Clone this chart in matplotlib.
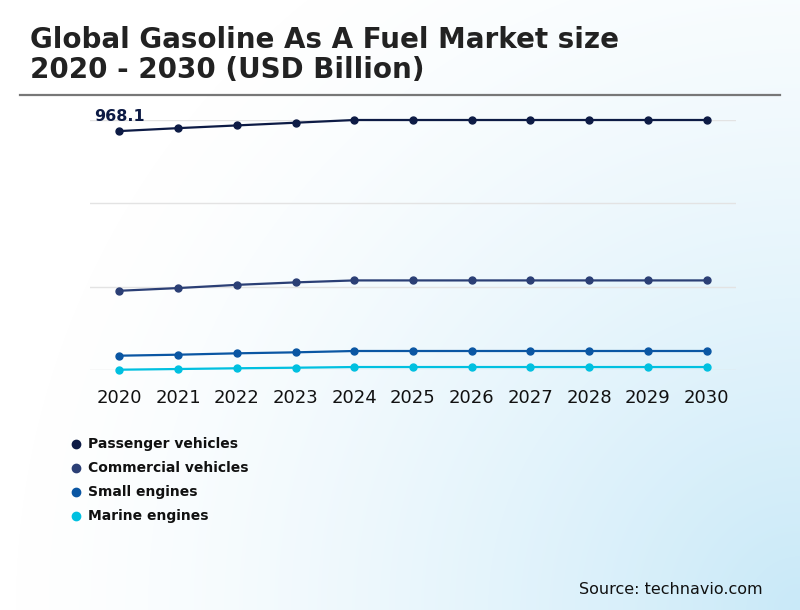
import numpy as np
import matplotlib
matplotlib.use("Agg")
import matplotlib.pyplot as plt
from matplotlib.colors import LinearSegmentedColormap

years = [2020, 2021, 2022, 2023, 2024, 2025, 2026, 2027, 2028, 2029, 2030]
passenger = [968.1, 980, 991, 1002, 1013, 1013, 1013, 1013, 1013, 1013, 1013]
commercial = [321, 332, 345, 355, 363, 363, 363, 363, 363, 363, 363]
small = [58, 62, 67.6, 71.6, 77, 77, 77, 77, 77, 77, 77]
marine = [1.2, 4, 7, 9.3, 12, 12, 12, 12, 12, 12, 12]
series_names = ["Passenger vehicles", "Commercial vehicles", "Small engines", "Marine engines"]
colors = ["#0d1b45", "#2b3f75", "#0a56a3", "#00c0e0"]
series = [passenger, commercial, small, marine]

W, H = 800, 610
fig = plt.figure(figsize=(W / 100, H / 100), dpi=100)

# radial gradient background from bottom-right corner
bg = fig.add_axes([0, 0, 1, 1], zorder=-10)
px, py = np.meshgrid(np.arange(W), np.arange(H))
d = np.hypot(W - px, H - py)
t = np.clip(1 - d / 800.0, 0, 1) ** 1.4
cmap = LinearSegmentedColormap.from_list("bg", ["#ffffff", "#c9e9f8"])
bg.imshow(t, cmap=cmap, origin="upper", extent=[0, 1, 0, 1], aspect="auto", vmin=0, vmax=1)
bg.set_axis_off()

# title and rule
fig.text(30 / W, 1 - 40 / H, "Global Gasoline As A Fuel Market size", fontsize=20,
         fontweight="bold", color="#222222", va="center", ha="left")
fig.text(30 / W, 1 - 70 / H, "2020 - 2030 (USD Billion)", fontsize=20,
         fontweight="bold", color="#222222", va="center", ha="left")
fig.add_artist(plt.Line2D([20 / W, 780 / W], [1 - 95 / H, 1 - 95 / H], color="#777777", lw=1.6))

# main axes
ax_l, ax_r, ax_t, ax_b = 90, 736, 120, 370
ax = fig.add_axes([ax_l / W, 1 - ax_b / H, (ax_r - ax_l) / W, (ax_b - ax_t) / H])
ax.patch.set_alpha(0)
ymax = 1013
ax.set_ylim(0, ymax)
ax.set_xlim(2019.5, 2030.5)
for s in ax.spines.values():
    s.set_visible(False)
ax.set_yticks(np.linspace(0, ymax, 4))
ax.set_yticklabels([])
ax.tick_params(axis="y", length=0)
ax.grid(axis="y", color="#e3e3e3", lw=1)
ax.set_axisbelow(True)
ax.set_xticks(years)
ax.set_xticklabels([str(y) for y in years], fontsize=13, color="#111111")
ax.tick_params(axis="x", length=0, pad=14)

for vals, c in zip(series, colors):
    ax.plot(years, vals, color=c, lw=1.6, marker="o", markersize=5, clip_on=False)

ax.annotate("968.1", (years[0], passenger[0]), xytext=(0, 5), textcoords="offset points",
            ha="center", va="bottom", fontsize=11.5, fontweight="bold", color="#0d1b45")

# legend
for i, (name, c) in enumerate(zip(series_names, colors)):
    y = 1 - (444 + 24 * i) / H
    fig.add_artist(plt.Line2D([76 / W], [y], marker="o", markersize=6, color=c, lw=0))
    fig.text(88 / W, y, name, fontsize=10, fontweight="bold", color="#111111", va="center", ha="left")

fig.text(763 / W, 1 - 589 / H, "Source: technavio.com", fontsize=11.5, color="#111111",
         ha="right", va="center")

fig.savefig("out.png", dpi=100)
